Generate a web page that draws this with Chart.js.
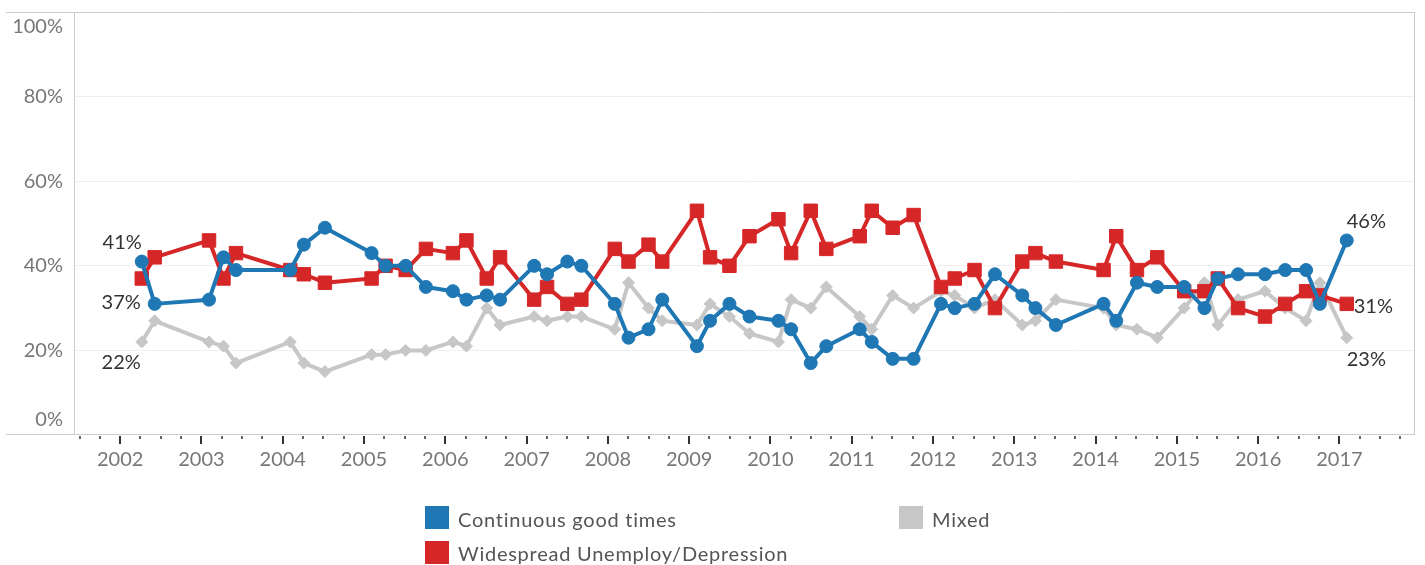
<!DOCTYPE html>
<html>
<head>
<meta charset="utf-8">
<script src="https://cdn.jsdelivr.net/npm/chart.js@4.4.1/dist/chart.umd.min.js"></script>
<style>
  html, body { margin: 0; padding: 0; background: #ffffff; }
  #wrap { position: relative; width: 1425px; height: 565px; overflow: hidden; }
  #c { position: absolute; left: 0; top: 0; }
  .lg { position: absolute; font-family: Lato, "Open Sans", sans-serif; font-size: 20px; line-height: 24px; color: #555555; white-space: nowrap; letter-spacing: 0.75px; }
  .sw { position: absolute; width: 24px; height: 23px; }
</style>
</head>
<body>
<div id="wrap">
  <canvas id="c" width="1425" height="565"></canvas>
  <div class="sw" style="left:425px;top:506px;background:#1f77b4"></div>
  <div class="lg" style="left:458px;top:507px">Continuous good times</div>
  <div class="sw" style="left:899px;top:506px;background:#c7c7c7"></div>
  <div class="lg" style="left:932px;top:507px">Mixed</div>
  <div class="sw" style="left:425px;top:541px;background:#d62728"></div>
  <div class="lg" style="left:458px;top:541px">Widespread Unemploy/Depression</div>
</div>
<script>
// ---- data ----
const surveyDates = [
  '2002-04-08','2002-06-05','2003-02-04','2003-04-10','2003-06-05','2004-02-04','2004-04-05','2004-07-09',
  '2005-02-04','2005-04-08','2005-07-07','2005-10-06','2006-02-04','2006-04-06','2006-07-06','2006-09-04',
  '2007-02-04','2007-04-03','2007-07-03','2007-09-04','2008-02-01','2008-04-03','2008-07-02','2008-09-02',
  '2009-02-05','2009-04-05','2009-07-01','2009-09-29','2010-02-06','2010-04-04','2010-07-01','2010-09-09',
  '2011-02-06','2011-04-01','2011-07-04','2011-10-06','2012-02-06','2012-04-08','2012-07-06','2012-10-06',
  '2013-02-06','2013-04-06','2013-07-07','2014-02-06','2014-04-04','2014-07-06','2014-10-05',
  '2015-02-03','2015-05-05','2015-07-04','2015-10-03','2016-02-01','2016-05-02','2016-08-04','2016-10-05',
  '2017-02-03'
];
const goodTimes = [
  41,31,32,42,39,39,45,49,
  43,40,40,35,34,32,33,32,
  40,38,41,40,31,23,25,32,
  21,27,31,28,27,25,17,21,
  25,22,18,18,31,30,31,38,
  33,30,26,31,27,36,35,
  35,30,37,38,38,39,39,31,
  46
];
const unemployment = [
  37,42,46,37,43,39,38,36,
  37,40,39,44,43,46,37,42,
  32,35,31,32,44,41,45,41,
  53,42,40,47,51,43,53,44,
  47,53,49,52,35,37,39,30,
  41,43,41,39,47,39,42,
  34,34,37,30,28,31,34,33,
  31
];
const mixed = [
  22,27,22,21,17,22,17,15,
  19,19,20,20,22,21,30,26,
  28,27,28,28,25,36,30,27,
  26,31,28,24,22,32,30,35,
  28,25,33,30,34,33,30,32,
  26,27,32,30,26,25,23,
  30,36,26,32,34,30,27,36,
  23
];
const yearTicks = [2002,2003,2004,2005,2006,2007,2008,2009,2010,2011,2012,2013,2014,2015,2016,2017];
const percentTicks = [0,20,40,60,80,100];
const seriesNames = ['Continuous good times','Widespread Unemploy/Depression','Mixed'];
const seriesColors = ['#1f77b4','#d62728','#c7c7c7'];

// ---- helpers ----
function decimalYear(s) {
  const [y, m, d] = s.split('-').map(Number);
  const t = Date.UTC(y, m - 1, d);
  const a = Date.UTC(y, 0, 1), b = Date.UTC(y + 1, 0, 1);
  return y + (t - a) / (b - a);
}
const xs = surveyDates.map(decimalYear);
const toPts = arr => arr.map((v, i) => ({ x: xs[i], y: v }));

const FONT = 'Lato, "Open Sans", sans-serif';

const framePlugin = {
  id: 'frame',
  beforeDatasetsDraw(chart) {
    const { ctx, chartArea: a, scales } = chart;
    ctx.save();
    ctx.strokeStyle = '#cccccc';
    ctx.lineWidth = 1;
    ctx.beginPath();
    ctx.moveTo(6, Math.round(a.top) + 0.5); ctx.lineTo(a.right, Math.round(a.top) + 0.5);
    ctx.moveTo(6, Math.round(a.bottom) - 0.5); ctx.lineTo(a.right, Math.round(a.bottom) - 0.5);
    ctx.moveTo(Math.round(a.left) + 0.5, a.top); ctx.lineTo(Math.round(a.left) + 0.5, a.bottom);
    ctx.moveTo(Math.round(a.right) - 0.5, a.top); ctx.lineTo(Math.round(a.right) - 0.5, a.bottom);
    ctx.stroke();
    // axis tick marks: years (long) and quarters (short)
    const sx = scales.x;
    ctx.strokeStyle = '#333333';
    const y0 = Math.round(a.bottom) + 1;
    for (let q = Math.ceil(sx.min * 4); q <= Math.floor(sx.max * 4); q++) {
      const v = q / 4;
      const px = Math.round(sx.getPixelForValue(v));
      const major = (q % 4 === 0);
      ctx.lineWidth = major ? 2 : 1.5;
      ctx.beginPath();
      ctx.moveTo(px, y0);
      ctx.lineTo(px, y0 + (major ? 8 : 3));
      ctx.stroke();
    }
    ctx.restore();
  }
};

const endLabelPlugin = {
  id: 'endLabels',
  afterDatasetsDraw(chart) {
    const { ctx } = chart;
    const place = [
      { first: [0, -19, 'right'], last: [0, -19, 'left'] },
      { first: [-1, 24, 'right'], last: [7, 3, 'left'] },
      { first: [-1, 21, 'right'], last: [0, 22, 'left'] }
    ];
    ctx.save();
    ctx.font = '20px ' + FONT;
    ctx.fillStyle = '#333333';
    ctx.textBaseline = 'middle';
    chart.data.datasets.forEach((ds, i) => {
      const meta = chart.getDatasetMeta(i);
      const n = meta.data.length;
      [['first', 0], ['last', n - 1]].forEach(([k, idx]) => {
        const p = meta.data[idx];
        const [dx, dy, al] = place[i][k];
        ctx.textAlign = al;
        ctx.fillText(ds.data[idx].y + '%', p.x + dx, p.y + dy);
      });
    });
    ctx.restore();
  }
};

new Chart(document.getElementById('c'), {
  type: 'line',
  data: {
    datasets: [
      { label: seriesNames[0], data: toPts(goodTimes), borderColor: seriesColors[0], backgroundColor: seriesColors[0],
        pointStyle: 'circle', pointRadius: 6.5, pointBorderWidth: 1, pointBorderColor: seriesColors[0] },
      { label: seriesNames[1], data: toPts(unemployment), borderColor: seriesColors[1], backgroundColor: seriesColors[1],
        pointStyle: 'rect', pointRadius: 9.5, pointBorderWidth: 1, pointBorderColor: seriesColors[1] },
      { label: seriesNames[2], data: toPts(mixed), borderColor: seriesColors[2], backgroundColor: seriesColors[2],
        pointStyle: 'rectRot', pointRadius: 6, pointBorderWidth: 1, pointBorderColor: seriesColors[2] }
    ].map(d => Object.assign(d, { borderWidth: 4, tension: 0, fill: false, borderJoinStyle: 'round', borderCapStyle: 'round', pointHoverRadius: d.pointRadius }))
  },
  options: {
    responsive: false,
    animation: false,
    devicePixelRatio: 1,
    layout: { padding: { top: 12, right: 7, left: 0, bottom: 0 } },
    plugins: { legend: { display: false }, tooltip: { enabled: false } },
    scales: {
      x: {
        type: 'linear',
        min: 2001.432,
        max: 2017.924,
        afterBuildTicks: s => { s.ticks = yearTicks.map(v => ({ value: v })); },
        afterFit: s => { s.height = 130; s.paddingLeft = 0; s.paddingRight = 0; },
        ticks: { autoSkip: false, maxRotation: 0, color: '#777777', padding: 5,
                 font: { family: FONT, size: 20 }, callback: v => String(v) },
        grid: { display: true, drawOnChartArea: false, drawTicks: true, tickLength: 8, tickColor: 'rgba(0,0,0,0)' },
        border: { display: false }
      },
      y: {
        min: 0,
        max: 100,
        afterBuildTicks: s => { s.ticks = percentTicks.map(v => ({ value: v })); },
        afterFit: s => { s.width = 74; s.paddingTop = 0; s.paddingBottom = 0; },
        ticks: { color: '#777777', padding: 11, font: { family: FONT, size: 20, lineHeight: 1.5 },
                 callback: v => v === 100 ? ['', v + '%'] : (v === 0 ? [v + '%', ''] : v + '%') },
        grid: { drawTicks: false, lineWidth: 1,
                color: c => (c.tick && (c.tick.value === 0 || c.tick.value === 100)) ? 'rgba(0,0,0,0)' : '#efefef' },
        border: { display: false }
      }
    }
  },
  plugins: [framePlugin, endLabelPlugin]
});
</script>
</body>
</html>
